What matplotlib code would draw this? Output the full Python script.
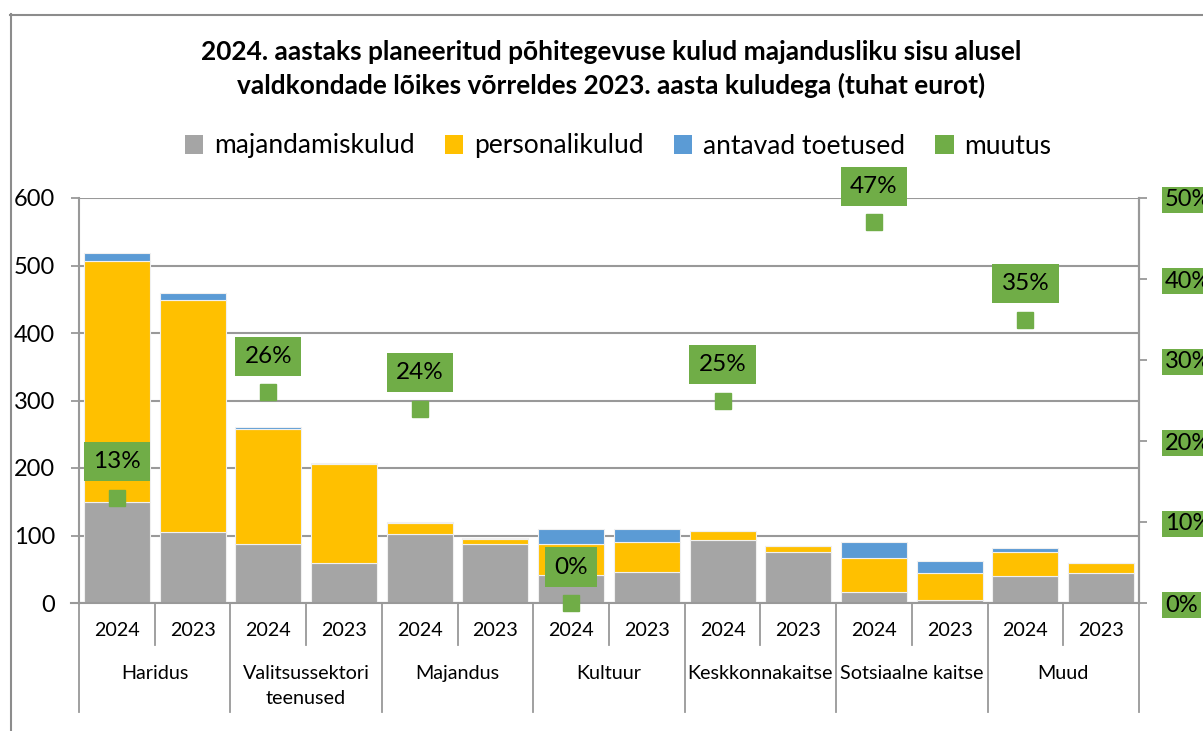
import matplotlib
matplotlib.use("Agg")
import matplotlib.pyplot as plt
from matplotlib.patches import Patch
from matplotlib.lines import Line2D
import numpy as np

plt.rcParams['font.family'] = ['Lato', 'DejaVu Sans']

# ---------------- data ----------------
categories = ["Haridus", "Valitsussektori\nteenused", "Majandus", "Kultuur",
              "Keskkonnakaitse", "Sotsiaalne kaitse", "Muud"]
years = ["2024", "2023"]
# order per bar: cat0-2024, cat0-2023, cat1-2024, ...
majandamiskulud = [150, 105, 88, 60, 102, 88, 41, 46, 94, 76, 16, 5, 40, 45]
personalikulud = [357, 344, 170, 146, 17, 7, 46, 44, 12, 8, 50, 39, 36, 15]
antavad_toetused = [12, 10, 3, 1.5, 1.5, 1, 22, 19, 0, 0, 25, 18, 5, 0]
muutus = [0.13, 0.26, 0.24, 0.00, 0.25, 0.47, 0.35]
muutus_labels = ["13%", "26%", "24%", "0%", "25%", "47%", "35%"]
left_ticks = [0, 100, 200, 300, 400, 500, 600]
right_ticks = [0, 0.1, 0.2, 0.3, 0.4, 0.5]
right_tick_labels = ["0%", "10%", "20%", "30%", "40%", "50%"]
title = ("2024. aastaks planeeritud põhitegevuse kulud majandusliku sisu alusel\n"
         "valdkondade lõikes võrreldes 2023. aasta kuludega (tuhat eurot)")
series_names = ["majandamiskulud", "personalikulud", "antavad toetused", "muutus"]

C_GRAY = "#A5A5A5"
C_YEL = "#FFC000"
C_BLUE = "#5B9BD5"
C_GREEN = "#70AD47"
C_AX = "#999999"

W, H = 1203, 731
fig = plt.figure(figsize=(W / 100, H / 100), dpi=100)

def fx(px):
    return px / W

def fy(py):
    return 1 - py / H

# chart border (extends beyond right/bottom edge)
fig.add_artist(Line2D([fx(10.5), fx(10.5)], [fy(14), fy(H + 5)], color="#8C8C8C", lw=1.5))
fig.add_artist(Line2D([fx(10), fx(W + 5)], [fy(14.5), fy(14.5)], color="#8C8C8C", lw=1.5))

L, R, T, B = 79, 1139, 198, 603
ax = fig.add_axes([fx(L), fy(B), (R - L) / W, (B - T) / H])
n = len(majandamiskulud)
x = np.arange(n)
bw = 0.87
g = np.array(majandamiskulud, float)
yv = np.array(personalikulud, float)
bv = np.array(antavad_toetused, float)
ax.bar(x, g, bw, color=C_GRAY, edgecolor="#F0F0F0", lw=0.8, zorder=2)
ax.bar(x, yv, bw, bottom=g, color=C_YEL, edgecolor="#F0F0F0", lw=0.8, zorder=2)
ax.bar(x, bv, bw, bottom=g + yv, color=C_BLUE, edgecolor="#F0F0F0", lw=0.8, zorder=2)

ax.set_xlim(-0.5, n - 0.5)
ax.set_ylim(0, 600)
ax.set_yticks(left_ticks)
ax.set_yticklabels([str(v) for v in left_ticks], fontsize=17)
ax.yaxis.grid(True, color=C_AX, lw=1.5)
ax.set_axisbelow(True)
ax.set_xticks([])
ax.tick_params(axis="y", length=5.8, width=1.3, color=C_AX, pad=11.5)
ax.spines["top"].set_visible(False)
for s in ["left", "bottom", "right"]:
    ax.spines[s].set_color(C_AX)
    ax.spines[s].set_linewidth(1.5)

# category axis (two-level)
xt = ax.get_xaxis_transform()
hpx = B - T
def ay(py):
    return (B - py) / hpx
for i in range(n):
    ax.text(i, ay(631), years[i % 2], transform=xt, ha="center", va="center", fontsize=14.2)
for k in range(len(categories)):
    ax.text(2 * k + 0.5, ay(665), categories[k], transform=xt, ha="center", va="top",
            fontsize=14.2, linespacing=1.55)
for k in range(len(categories)):
    ax.plot([2 * k + 0.5] * 2, [0, ay(645)], transform=xt, color=C_AX, lw=1.3, clip_on=False)
for k in range(len(categories) + 1):
    ax.plot([2 * k - 0.5] * 2, [0, ay(712)], transform=xt, color=C_AX, lw=1.3, clip_on=False)
ax.plot([-0.5 - 8 / 75.7, -0.5], [0, 0], transform=xt, color=C_AX, lw=1.5, clip_on=False)

# secondary axis
ax2 = ax.twinx()
ax2.set_ylim(0, 0.5)
ax2.set_yticks(right_ticks)
ax2.set_yticklabels(right_tick_labels, fontsize=17)
ax2.tick_params(axis="y", length=5.8, width=1.3, color=C_AX, pad=13)
for t in ax2.get_yticklabels():
    t.set_bbox(dict(facecolor=C_GREEN, edgecolor="none", boxstyle="square,pad=0.12"))
for s in ["top", "left", "bottom"]:
    ax2.spines[s].set_visible(False)
ax2.spines["right"].set_color(C_AX)
ax2.spines["right"].set_linewidth(1.5)

x24 = x[::2]
ax2.plot(x24, muutus, linestyle="none", marker="s", ms=12.2, color=C_GREEN, zorder=5, clip_on=False)
for xi, v, lab in zip(x24, muutus, muutus_labels):
    ax2.annotate(lab, (xi, v), xytext=(0, 36), textcoords="offset pixels",
                 ha="center", va="center", fontsize=17.5,
                 bbox=dict(facecolor=C_GREEN, edgecolor="none", boxstyle="square,pad=0.38"),
                 zorder=6)

# title
fig.text(fx(611), fy(69), title, ha="center", va="center", fontsize=18.9,
         fontweight="bold", linespacing=1.45)

# legend
handles = [Patch(facecolor=C_GRAY), Patch(facecolor=C_YEL), Patch(facecolor=C_BLUE),
           Patch(facecolor=C_GREEN)]
fig.legend(handles, series_names, loc="center", bbox_to_anchor=(fx(618), fy(146)),
           ncol=4, frameon=False, fontsize=19, handlelength=0.7, handleheight=0.7,
           handletextpad=0.4, columnspacing=1.15)

fig.savefig("out.png", dpi=100)
